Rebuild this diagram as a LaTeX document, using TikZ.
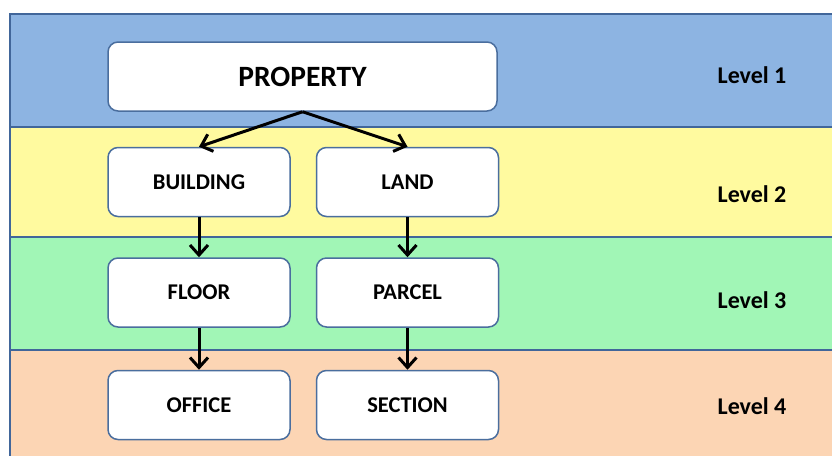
\documentclass[tikz,border=0pt]{standalone}
\usepackage{fontspec}
\setmainfont{Carlito}
\usepackage{xcolor}
\usetikzlibrary{arrows.meta, positioning}

\definecolor{bandline}{HTML}{41669A}
\definecolor{boxline}{HTML}{4A6E9E}
\definecolor{bandblue}{HTML}{8DB4E2}
\definecolor{bandyellow}{HTML}{FFFA9F}
\definecolor{bandgreen}{HTML}{A1F6B6}
\definecolor{bandpeach}{HTML}{FCD5B4}

\begin{document}
\begin{tikzpicture}[
    x=1pt, y=-1pt,
    band/.style={draw=bandline, line width=1.6pt, fill=#1},
    box/.style={rectangle, draw=boxline, line width=1.5pt, fill=white, rounded corners=10pt,
        minimum width=182pt, minimum height=69pt, align=center,
        font=\bfseries\fontsize{22.5}{26}\selectfont},
    level/.style={font=\bfseries\fontsize{24}{28}\selectfont},
    arrow/.style={-{Straight Barb[length=10pt, width=18pt, line width=3pt]}, line width=3pt}
]
\useasboundingbox (0,0) rectangle (832,455);

% Level bands
\draw[band=bandblue] (10,14) rectangle (850,127);
\draw[band=bandyellow] (10,127) rectangle (850,237);
\draw[band=bandgreen] (10,237) rectangle (850,350);
\draw[band=bandpeach] (10,350) rectangle (850,470);

% Level labels
\node[level] (lvl1) at (752,75) {Level 1};
\node[level] (lvl2) at (752,194) {Level 2};
\node[level] (lvl3) at (752,300) {Level 3};
\node[level] (lvl4) at (752,406) {Level 4};

% Top node
\node[box, minimum width=389pt, font=\bfseries\fontsize{29.5}{34}\selectfont] (property) at (302.5,76.5) {PROPERTY};

% Second row
\node[box, below right=35pt and 0pt of property.south west] (building) {BUILDING};
\node[box, right=25pt of building] (land) {LAND};

% Third row
\node[box, below=40pt of building] (floor) {FLOOR};
\node[box, below=40pt of land] (parcel) {PARCEL};

% Fourth row
\node[box, below=42pt of floor] (office) {OFFICE};
\node[box, below=42pt of parcel] (section) {SECTION};

% Arrows
\draw[arrow] (property.south) -- (building.north);
\draw[arrow] (property.south) -- (land.north);
\draw[arrow] (building) -- (floor);
\draw[arrow] (land) -- (parcel);
\draw[arrow] (floor) -- (office);
\draw[arrow] (parcel) -- (section);

\end{tikzpicture}
\end{document}
